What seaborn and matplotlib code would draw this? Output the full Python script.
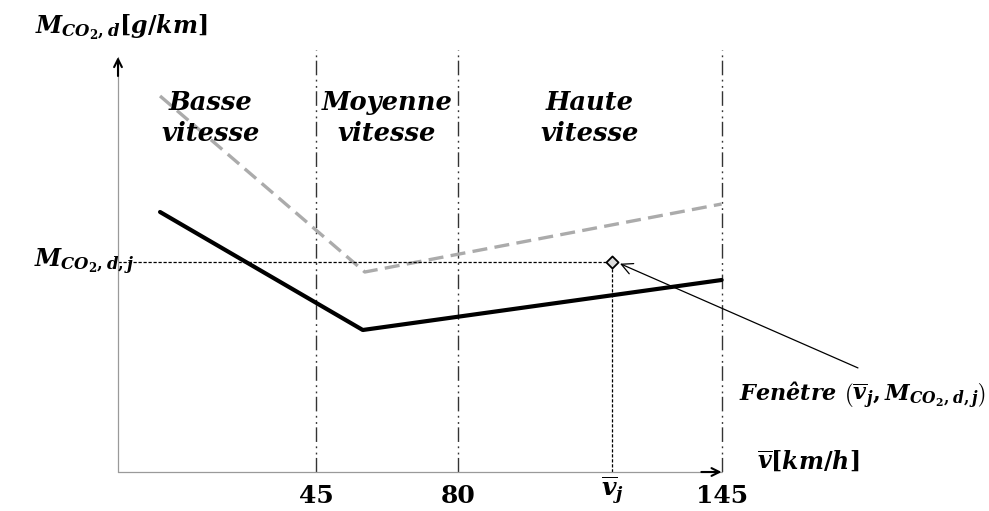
import matplotlib
matplotlib.use("Agg")
import matplotlib.pyplot as plt
import matplotlib.transforms as mtransforms
import seaborn as sns

# speed zone limits [km/h] and zone names
zone_limits = [45, 80, 145]
zone_names = ["Basse\nvitesse", "Moyenne\nvitesse", "Haute\nvitesse"]
zone_centers = [19, 62.5, 112.5]

# schematic CO2 curves (speed, emission)
speed_solid = [6.5, 56.5, 145]
co2_solid = [130, 71, 96]
speed_dashed = [6.5, 57, 145]
co2_dashed = [188, 100, 134]

# chosen window point
v_j = 118
m_j = 105

# x tick positions and labels
tick_pos = [45, 80, v_j, 145]
tick_labels = ["45", "80", r"$\overline{v}_j$", "145"]

sns.set_theme(style="white")
plt.rcParams["font.family"] = ["DejaVu Serif"]
plt.rcParams["text.color"] = "black"
plt.rcParams["xtick.color"] = "black"
plt.rcParams["mathtext.fontset"] = "custom"
plt.rcParams["mathtext.rm"] = "DejaVu Serif:bold"
plt.rcParams["mathtext.bf"] = "DejaVu Serif:bold"
plt.rcParams["mathtext.it"] = "DejaVu Serif:italic:bold"

fig = plt.figure(figsize=(9.89, 5.11), dpi=100)
ax = fig.add_axes([118 / 989, 39 / 511, 632 / 989, 432 / 511])
ax.set_xlim(-3.87, 152)
ax.set_ylim(0, 216)
for s in ax.spines.values():
    s.set_visible(False)

bold_it = dict(fontfamily="DejaVu Serif", fontweight="bold", fontstyle="italic")

# zone separators (dash-dot-dot)
ax.vlines(zone_limits, 0, 211, colors="#333333", lw=1,
          linestyles=[(0, (10.5, 2.5, 1.3, 3.2, 1.3, 3.2))])

# curves
sns.lineplot(x=speed_dashed, y=co2_dashed, ax=ax, color="#ababab", lw=2.4,
             linestyle=(0, (4.5, 2.2)))
sns.lineplot(x=speed_solid, y=co2_solid, ax=ax, color="black", lw=3)

# guide lines to window point
ax.plot([-3.87, v_j], [m_j, m_j], color="black", lw=0.9, ls=(0, (2.6, 1.4)))
ax.plot([v_j, v_j], [0, m_j], color="black", lw=0.9, ls=(0, (2.6, 1.4)))
sns.scatterplot(x=[v_j], y=[m_j], ax=ax, marker="D", s=38, color="#dddddd",
                edgecolor="black", linewidth=1.3, zorder=5)

# axes with arrows
ax.plot([-3.87, 145], [0, 0], color="#9a9a9a", lw=0.9, clip_on=False)
ax.plot([-3.87, -3.87], [0, 207.5], color="#9a9a9a", lw=0.9, clip_on=False)
ax.annotate("", xy=(145, 0), xytext=(140, 0),
            arrowprops=dict(arrowstyle="->", color="black", lw=1.5,
                            shrinkA=0, shrinkB=0, mutation_scale=14),
            annotation_clip=False)
ax.annotate("", xy=(-3.87, 207.5), xytext=(-3.87, 198),
            arrowprops=dict(arrowstyle="->", color="black", lw=1.5,
                            shrinkA=0, shrinkB=0, mutation_scale=14),
            annotation_clip=False)

# ticks
ax.set_xticks(tick_pos)
ax.set_xticklabels(tick_labels)
ax.tick_params(axis="x", direction="inout", length=7, width=0.8,
               color="#777777", pad=5, labelsize=18)
for t in ax.xaxis.get_major_ticks()[2:]:
    t.tick1line.set_visible(False)
labels = ax.get_xticklabels()
for lab in labels:
    lab.set_fontweight("bold")
# lift the v_j label a little so it stays inside the figure
lift = mtransforms.ScaledTranslation(0, 7 / 72, fig.dpi_scale_trans)
labels[2].set_transform(labels[2].get_transform() + lift)
ax.set_yticks([])
ax.set_xlabel("")
ax.set_ylabel("")

# zone labels
for xc, name in zip(zone_centers, zone_names):
    ax.text(xc, 177, name, ha="center", va="center", fontsize=18.5,
            linespacing=1.3, **bold_it)

# axis titles
fig.text(0.122, 0.947, r"$M_{CO_2,d}[g/km]$", ha="center", va="center",
         fontsize=17)
fig.text(0.817, 0.096, r"$\overline{v}[km/h]$", ha="center", va="center",
         fontsize=17)
trans = mtransforms.blended_transform_factory(fig.transFigure, ax.transData)
ax.text(0.085, m_j, r"$M_{CO_2,d,j}$", transform=trans, ha="center",
        va="center", fontsize=17)

# window annotation
ax.annotate(r"Fenêtre $\left(\overline{v}_j, M_{CO_2,d,j}\right)$",
            xy=(v_j, m_j), xycoords="data",
            xytext=(0.872, 0.227), textcoords="figure fraction",
            ha="center", va="center", fontsize=16, annotation_clip=False,
            **bold_it)
ax.annotate("", xy=(v_j + 1, m_j), xycoords="data",
            xytext=(0.8675, 0.28), textcoords="figure fraction",
            arrowprops=dict(arrowstyle="->", color="black", lw=0.9,
                            shrinkA=0, shrinkB=3, mutation_scale=20),
            annotation_clip=False)

fig.savefig("out.png", dpi=100)
